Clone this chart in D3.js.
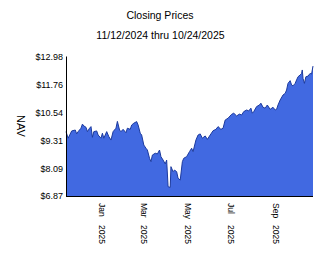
<!DOCTYPE html>
<html><head><meta charset="utf-8">
<script src="https://cdn.jsdelivr.net/npm/d3@7"></script>
<style>
html,body{margin:0;padding:0;background:#fff;}
svg{display:block;font-family:"Liberation Sans",Arial,sans-serif;}
</style></head>
<body><svg id="c" width="324" height="267"></svg>
<script>
const title = "Closing Prices";
const subtitle = "11/12/2024 thru 10/24/2025";
const yLabel = "NAV";
const yTicks = [6.87, 8.09, 9.31, 10.54, 11.76, 12.98];
const xTickDates = ["2025-01-01","2025-03-01","2025-05-01","2025-07-01","2025-09-01"];
const dates = ["2024-11-12","2024-11-15","2024-11-20","2024-11-25","2024-11-27","2024-11-29","2024-12-03","2024-12-05","2024-12-07","2024-12-10","2024-12-12","2024-12-15","2024-12-17","2024-12-19","2024-12-21","2024-12-25","2024-12-27","2024-12-31","2025-01-02","2025-01-04","2025-01-08","2025-01-11","2025-01-14","2025-01-17","2025-01-21","2025-01-23","2025-01-26","2025-01-28","2025-01-31","2025-02-04","2025-02-06","2025-02-10","2025-02-12","2025-02-15","2025-02-19","2025-02-21","2025-02-24","2025-02-26","2025-03-01","2025-03-04","2025-03-06","2025-03-09","2025-03-11","2025-03-13","2025-03-17","2025-03-20","2025-03-23","2025-03-25","2025-03-28","2025-03-31","2025-04-02","2025-04-04","2025-04-07","2025-04-08","2025-04-11","2025-04-13","2025-04-16","2025-04-18","2025-04-21","2025-04-24","2025-04-26","2025-04-30","2025-05-04","2025-05-07","2025-05-09","2025-05-13","2025-05-16","2025-05-19","2025-05-22","2025-05-26","2025-05-29","2025-06-02","2025-06-06","2025-06-10","2025-06-13","2025-06-17","2025-06-20","2025-06-23","2025-06-27","2025-07-02","2025-07-05","2025-07-09","2025-07-13","2025-07-16","2025-07-19","2025-07-23","2025-07-26","2025-07-29","2025-07-31","2025-08-02","2025-08-06","2025-08-10","2025-08-12","2025-08-15","2025-08-18","2025-08-21","2025-08-25","2025-08-29","2025-09-01","2025-09-03","2025-09-05","2025-09-08","2025-09-12","2025-09-15","2025-09-17","2025-09-19","2025-09-22","2025-09-24","2025-09-26","2025-09-29","2025-10-01","2025-10-03","2025-10-06","2025-10-08","2025-10-09","2025-10-10","2025-10-12","2025-10-14","2025-10-17","2025-10-20","2025-10-22","2025-10-24"];
const prices = [9.70,9.41,9.73,9.77,9.60,9.70,9.85,10.03,9.95,9.89,9.70,9.85,9.92,9.45,9.70,9.73,9.55,9.41,9.63,9.41,9.70,9.48,9.33,9.70,9.85,10.15,9.77,9.70,9.80,9.65,9.85,9.80,9.99,10.07,10.14,9.99,9.63,9.55,9.11,8.97,8.89,8.53,8.38,8.67,8.75,8.72,8.89,8.60,8.45,8.28,8.45,7.28,7.25,8.16,7.94,8.01,7.94,7.65,7.57,8.38,8.53,8.60,8.82,8.97,8.82,9.33,9.55,9.60,9.41,9.51,9.36,9.55,9.74,9.80,9.92,9.80,9.85,10.21,10.29,10.46,10.51,10.39,10.47,10.43,10.58,10.65,10.61,10.73,10.51,10.58,10.80,10.87,10.95,10.77,10.73,10.87,10.68,10.77,10.65,10.68,10.87,11.09,11.31,11.38,11.53,11.82,11.94,11.75,11.71,11.82,11.97,12.11,12.19,12.26,12.41,12.04,11.82,12.11,12.14,12.26,12.23,12.58];

const parse = d3.utcParse("%Y-%m-%d");
const data = dates.map((d,i)=>({date:parse(d), v:prices[i]}));
const svg = d3.select("#c");
const x = d3.scaleUtc().domain([parse("2024-11-12"), parse("2025-10-24")]).range([66, 313]);
const y = d3.scaleLinear().domain([yTicks[0], yTicks[yTicks.length-1]]).range([196, 57]);

svg.append("text").attr("x",160).attr("y",19).attr("text-anchor","middle")
  .attr("font-size","10.5px").attr("fill","#000").text(title);
svg.append("text").attr("x",160.5).attr("y",39.3).attr("text-anchor","middle")
  .attr("font-size","10.5px").attr("fill","#000").text(subtitle);

const area = d3.area().x(d=>x(d.date)).y0(y(yTicks[0])).y1(d=>y(d.v));
const line = d3.line().x(d=>x(d.date)).y(d=>y(d.v));
svg.append("path").datum(data).attr("d",area).attr("fill","#4169e1");
svg.append("path").datum(data).attr("d",line).attr("fill","none")
  .attr("stroke","#1c3a9e").attr("stroke-width",1);

const yAxis = d3.axisLeft(y).tickValues(yTicks).tickSize(0).tickPadding(3)
  .tickFormat(d=>"$"+d.toFixed(2));
const gy = svg.append("g").attr("transform","translate(66,0)").call(yAxis);
gy.select(".domain").attr("stroke","#000").attr("d","M0.5,56.5V196.5");
gy.selectAll("text").attr("font-size","9px").attr("font-family","'Liberation Sans',Arial,sans-serif").attr("fill","#000");

const xAxis = d3.axisBottom(x).tickValues(xTickDates.map(parse)).tickSize(0).tickFormat("");
const gx = svg.append("g").attr("transform","translate(0,196)").call(xAxis);
gx.select(".domain").attr("stroke","#000").attr("d","M66,0.5H313");
gx.selectAll(".tick").each(function(d){
  const t = d3.select(this).append("text").attr("transform","rotate(90)")
    .attr("x",7).attr("y",0).attr("dy","0.35em")
    .attr("font-size","8.5px").attr("fill","#000").attr("text-anchor","start");
  t.append("tspan").text(d3.utcFormat("%b")(d));
  t.append("tspan").attr("x",29).text(d3.utcFormat("%Y")(d));
});

svg.append("text").attr("transform","translate(17,126) rotate(90)")
  .attr("text-anchor","middle").attr("font-size","11px").attr("fill","#000").text(yLabel);
</script></body></html>
